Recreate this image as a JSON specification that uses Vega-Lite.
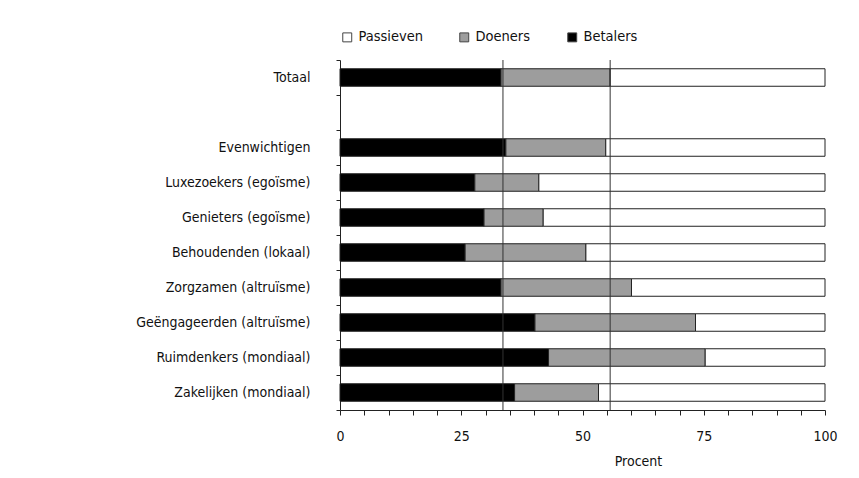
{
  "$schema": "https://vega.github.io/schema/vega-lite/v6.json",
  "width": 485,
  "height": 350,
  "autosize": {"type": "none"},
  "padding": {"left": 340, "top": 60, "right": 34, "bottom": 68},
  "background": "white",
  "config": {
    "font": "DejaVu Sans Condensed, Liberation Sans Narrow, Open Sans",
    "view": {"stroke": null},
    "axis": {"labelColor": "#111", "titleColor": "#111", "domainColor": "#222", "tickColor": "#222", "grid": false},
    "axisX": {"labelOverlap": false, "labelSeparation": 0, "labelBound": false}
  },
  "datasets": {
    "bars": [
      {"segment": "Totaal", "groep": "Betalers", "procent": 33.2},
      {"segment": "Totaal", "groep": "Doeners", "procent": 22.5},
      {"segment": "Totaal", "groep": "Passieven", "procent": 44.3},
      {"segment": "Evenwichtigen", "groep": "Betalers", "procent": 34.2},
      {"segment": "Evenwichtigen", "groep": "Doeners", "procent": 20.6},
      {"segment": "Evenwichtigen", "groep": "Passieven", "procent": 45.2},
      {"segment": "Luxezoekers (egoïsme)", "groep": "Betalers", "procent": 27.8},
      {"segment": "Luxezoekers (egoïsme)", "groep": "Doeners", "procent": 13.2},
      {"segment": "Luxezoekers (egoïsme)", "groep": "Passieven", "procent": 59.0},
      {"segment": "Genieters (egoïsme)", "groep": "Betalers", "procent": 29.7},
      {"segment": "Genieters (egoïsme)", "groep": "Doeners", "procent": 12.2},
      {"segment": "Genieters (egoïsme)", "groep": "Passieven", "procent": 58.1},
      {"segment": "Behoudenden (lokaal)", "groep": "Betalers", "procent": 25.8},
      {"segment": "Behoudenden (lokaal)", "groep": "Doeners", "procent": 24.9},
      {"segment": "Behoudenden (lokaal)", "groep": "Passieven", "procent": 49.3},
      {"segment": "Zorgzamen (altruïsme)", "groep": "Betalers", "procent": 33.2},
      {"segment": "Zorgzamen (altruïsme)", "groep": "Doeners", "procent": 26.9},
      {"segment": "Zorgzamen (altruïsme)", "groep": "Passieven", "procent": 39.9},
      {"segment": "Geëngageerden (altruïsme)", "groep": "Betalers", "procent": 40.2},
      {"segment": "Geëngageerden (altruïsme)", "groep": "Doeners", "procent": 33.1},
      {"segment": "Geëngageerden (altruïsme)", "groep": "Passieven", "procent": 26.7},
      {"segment": "Ruimdenkers (mondiaal)", "groep": "Betalers", "procent": 43.0},
      {"segment": "Ruimdenkers (mondiaal)", "groep": "Doeners", "procent": 32.3},
      {"segment": "Ruimdenkers (mondiaal)", "groep": "Passieven", "procent": 24.7},
      {"segment": "Zakelijken (mondiaal)", "groep": "Betalers", "procent": 36.0},
      {"segment": "Zakelijken (mondiaal)", "groep": "Doeners", "procent": 17.3},
      {"segment": "Zakelijken (mondiaal)", "groep": "Passieven", "procent": 46.7}
    ],
    "referentie": [
      {"procent": 33.6},
      {"procent": 55.7}
    ]
  },
  "layer": [
    {
      "data": {"name": "bars"},
      "mark": {"type": "bar", "height": {"band": 0.5}, "stroke": "#222", "strokeWidth": 1},
      "encoding": {
        "y": {
          "field": "segment",
          "type": "nominal",
          "scale": {
            "domain": ["Totaal", " ", "Evenwichtigen", "Luxezoekers (egoïsme)", "Genieters (egoïsme)", "Behoudenden (lokaal)", "Zorgzamen (altruïsme)", "Geëngageerden (altruïsme)", "Ruimdenkers (mondiaal)", "Zakelijken (mondiaal)"],
            "paddingInner": 0,
            "paddingOuter": 0
          },
          "axis": {
            "title": null,
            "tickBand": "extent",
            "tickSize": 4,
            "labelPadding": 26,
            "labelFontSize": 14,
            "labelLimit": 400
          }
        },
        "x": {
          "field": "procent",
          "type": "quantitative",
          "stack": "zero",
          "scale": {"domain": [0, 100], "nice": false},
          "axis": {
            "title": "Procent",
            "titleFontSize": 14,
            "titleFontWeight": "normal",
            "titleX": 298,
            "titlePadding": 11,
            "values": [0, 5, 10, 15, 20, 25, 30, 35, 40, 45, 50, 55, 60, 65, 70, 75, 80, 85, 90, 95, 100],
            "labelExpr": "datum.value % 25 === 0 ? datum.label : ''",
            "labelOverlap": false,
            "labelFlush": false,
            "labelFontSize": 14,
            "labelPadding": 14,
            "tickSize": 5
          }
        },
        "color": {
          "field": "groep",
          "type": "nominal",
          "scale": {"domain": ["Passieven", "Doeners", "Betalers"], "range": ["#ffffff", "#9d9d9d", "#000000"]},
          "legend": {
            "title": null,
            "orient": "top",
            "direction": "horizontal",
            "symbolType": "square",
            "symbolSize": 80,
            "symbolStrokeColor": "#444",
            "symbolStrokeWidth": 1,
            "labelFontSize": 14.5,
            "labelColor": "#111",
            "columnPadding": 34,
            "offset": 16
          }
        }
      }
    },
    {
      "data": {"name": "referentie"},
      "mark": {"type": "rule", "color": "#333", "strokeWidth": 1},
      "encoding": {
        "x": {
          "field": "procent",
          "type": "quantitative",
          "axis": {
            "title": "Procent",
            "titleFontSize": 14,
            "titleFontWeight": "normal",
            "titleX": 298,
            "titlePadding": 11,
            "values": [0, 5, 10, 15, 20, 25, 30, 35, 40, 45, 50, 55, 60, 65, 70, 75, 80, 85, 90, 95, 100],
            "labelExpr": "datum.value % 25 === 0 ? datum.label : ''",
            "labelOverlap": false,
            "labelFlush": false,
            "labelFontSize": 14,
            "labelPadding": 14,
            "tickSize": 5
          }
        }
      }
    }
  ]
}
